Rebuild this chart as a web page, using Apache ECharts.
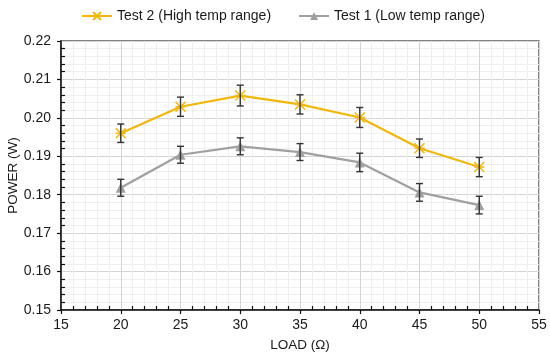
<!DOCTYPE html>
<html>
<head>
<meta charset="utf-8">
<script src="https://cdn.jsdelivr.net/npm/echarts@6/dist/echarts.min.js"></script>
<style>html,body{margin:0;padding:0;background:#fff}#c{width:550px;height:356px}</style>
</head>
<body>
<div id="c"></div>
<script>
const loads = [20, 25, 30, 35, 40, 45, 50];
const test2Power = [0.1960, 0.2029, 0.2058, 0.2035, 0.2001, 0.1921, 0.1872];
const test2Err = [0.0024, 0.0025, 0.0027, 0.0025, 0.0026, 0.0024, 0.0025];
const test1Power = [0.1818, 0.1904, 0.1926, 0.1911, 0.1884, 0.1806, 0.1773];
const test1Err = [0.0022, 0.0022, 0.0022, 0.0022, 0.0024, 0.0023, 0.0023];
const xTicks = {min: 15, max: 55, interval: 5};
const yTicks = {min: 0.15, max: 0.22, interval: 0.01};
const names = ['Test 2 (High temp range)', 'Test 1 (Low temp range)'];

const FONT = 'Liberation Sans, Arial, sans-serif';
const crossPath = 'path://M0,0L10,10M10,0L0,10M0,5L10,5';

function pts(xs, ys) { return xs.map((x, i) => [x, ys[i]]); }
function errData(xs, ys, es) { return xs.map((x, i) => [x, ys[i] - es[i], ys[i] + es[i]]); }

function errRender(params, api) {
  const x = api.value(0), lo = api.value(1), hi = api.value(2);
  const pLo = api.coord([x, lo]);
  const pHi = api.coord([x, hi]);
  const w = 3.5;
  const style = {stroke: '#333', lineWidth: 1.4};
  return {
    type: 'group',
    children: [
      {type: 'line', shape: {x1: pLo[0], y1: pLo[1], x2: pHi[0], y2: pHi[1]}, style},
      {type: 'line', shape: {x1: pLo[0] - w, y1: pLo[1], x2: pLo[0] + w, y2: pLo[1]}, style},
      {type: 'line', shape: {x1: pHi[0] - w, y1: pHi[1], x2: pHi[0] + w, y2: pHi[1]}, style}
    ]
  };
}

const chart = echarts.init(document.getElementById('c'), null, {renderer: 'canvas'});
const baseX = {
  type: 'value', min: xTicks.min, max: xTicks.max, interval: xTicks.interval,
  position: 'bottom'
};
const baseY = {
  type: 'value', min: yTicks.min, max: yTicks.max, interval: yTicks.interval,
  position: 'left'
};
chart.setOption({
  animation: false,
  textStyle: {fontFamily: FONT},
  legend: {
    data: names,
    left: 76, top: 4,
    itemWidth: 30, itemHeight: 10, itemGap: 27,
    textStyle: {fontSize: 14, color: '#1a1a1a', fontFamily: FONT}
  },
  grid: {
    left: 61, right: 11, top: 41, bottom: 46,
    containLabel: false, outerBoundsMode: 'none',
    show: true, borderColor: '#595959', borderWidth: 1.5, backgroundColor: 'transparent'
  },
  xAxis: [
    Object.assign({}, baseX, {
      name: 'LOAD (Ω)', nameLocation: 'middle', nameGap: 28, nameMoveOverlap: false,
      nameTextStyle: {fontSize: 13.5, color: '#1a1a1a', fontFamily: FONT},
      axisLine: {show: true, onZero: false, lineStyle: {color: '#111', width: 1.5}},
      axisTick: {show: true, inside: false, length: 4, lineStyle: {color: '#111', width: 1.2}},
      axisLabel: {fontSize: 14, color: '#1a1a1a', margin: 8, fontFamily: FONT},
      splitLine: {show: true, lineStyle: {color: '#d4d4d4', width: 1}},
      minorTick: {show: false},
      minorSplitLine: {show: true, lineStyle: {color: '#efefef', width: 1}}
    }),
    Object.assign({}, baseX, {
      axisLine: {show: false},
      axisTick: {show: false, inside: true},
      axisLabel: {show: false},
      splitLine: {show: false},
      minorTick: {show: true, splitNumber: 5, length: 4, lineStyle: {color: '#111', width: 1.2}}
    })
  ],
  yAxis: [
    Object.assign({}, baseY, {
      name: 'POWER (W)', nameLocation: 'middle', nameGap: 41, nameMoveOverlap: false,
      nameTextStyle: {fontSize: 13.5, color: '#1a1a1a', fontFamily: FONT},
      axisLine: {show: true, onZero: false, lineStyle: {color: '#111', width: 1.5}},
      axisTick: {show: true, inside: false, length: 4, lineStyle: {color: '#111', width: 1.2}},
      axisLabel: {fontSize: 14, color: '#1a1a1a', margin: 10, fontFamily: FONT,
        formatter: v => v.toFixed(2)},
      splitLine: {show: true, lineStyle: {color: '#d4d4d4', width: 1}},
      minorTick: {show: false},
      minorSplitLine: {show: true, lineStyle: {color: '#efefef', width: 1}}
    }),
    Object.assign({}, baseY, {
      axisLine: {show: false},
      axisTick: {show: false, inside: true},
      axisLabel: {show: false},
      splitLine: {show: false},
      minorTick: {show: true, splitNumber: 5, length: 4, lineStyle: {color: '#111', width: 1.2}}
    })
  ],
  series: [
    {
      name: names[0], type: 'line', data: pts(loads, test2Power),
      xAxisIndex: 0, yAxisIndex: 0,
      symbol: crossPath, symbolSize: 10,
      lineStyle: {color: '#f2b70a', width: 2.2},
      itemStyle: {color: '#f2b70a', borderColor: '#f2b70a', borderWidth: 1.5},
      z: 3
    },
    {
      name: names[1], type: 'line', data: pts(loads, test1Power),
      xAxisIndex: 0, yAxisIndex: 0,
      symbol: 'triangle', symbolSize: 10,
      lineStyle: {color: '#a0a0a0', width: 2.2},
      itemStyle: {color: '#a0a0a0'},
      z: 3
    },
    {
      type: 'custom', renderItem: errRender, data: errData(loads, test2Power, test2Err),
      xAxisIndex: 0, yAxisIndex: 0, encode: {x: 0, y: [1, 2]}, z: 4, silent: true
    },
    {
      type: 'custom', renderItem: errRender, data: errData(loads, test1Power, test1Err),
      xAxisIndex: 0, yAxisIndex: 0, encode: {x: 0, y: [1, 2]}, z: 4, silent: true
    }
  ]
});
</script>
</body>
</html>
